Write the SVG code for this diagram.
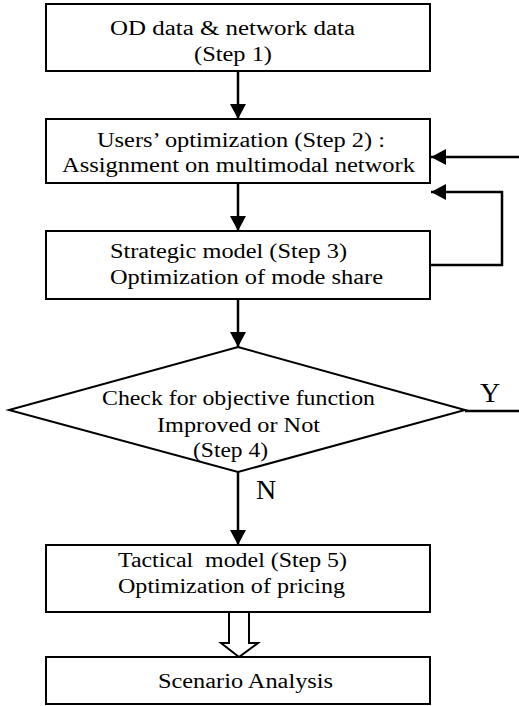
<svg xmlns="http://www.w3.org/2000/svg" width="519" height="706" viewBox="0 0 519 706">
  <style>
    .box { fill: #ffffff; stroke: #000000; stroke-width: 2; }
    .line { fill: none; stroke: #000000; stroke-width: 2.5; }
    .hollow { fill: #ffffff; stroke: #000000; stroke-width: 2; stroke-linejoin: miter; }
    text { font-family: "Liberation Serif", "Times New Roman", serif; font-size: 20px; fill: #000000; }
    .big { font-size: 28px; }
  </style>
  <defs>
    <marker id="head" markerWidth="16" markerHeight="16" viewBox="0 0 16 16" refX="15" refY="8" orient="auto" markerUnits="userSpaceOnUse">
      <path d="M0,0 L15,8 L0,16 Z" fill="#000000"/>
    </marker>
  </defs>

  <rect width="519" height="706" fill="#ffffff"/>

  <!-- connectors -->
  <g id="connectors">
    <line class="line" x1="238" y1="71" x2="238" y2="119" marker-end="url(#head)"/>
    <line class="line" x1="238" y1="183" x2="238" y2="231" marker-end="url(#head)"/>
    <line class="line" x1="238" y1="299" x2="238" y2="347" marker-end="url(#head)"/>
    <line class="line" x1="238" y1="472" x2="238" y2="545" marker-end="url(#head)"/>
    <!-- Y branch back to step 2 -->
    <line class="line" x1="465" y1="411" x2="519" y2="411"/>
    <line class="line" x1="519" y1="157" x2="431" y2="157" marker-end="url(#head)"/>
    <!-- loop from step 3 to step 2 -->
    <polyline class="line" points="430,265 502,265 502,192 431,192" marker-end="url(#head)"/>
    <!-- hollow arrow to scenario analysis -->
    <path class="hollow" d="M229,612 L229,643 L221,643 L239,657 L258,643 L249,643 L249,612"/>
    <text class="big" x="480" y="402">Y</text>
    <text class="big" x="256" y="499">N</text>
  </g>

  <g id="step1">
    <rect class="box" x="46" y="4" width="384" height="67"/>
    <text x="110" y="35" textLength="245" lengthAdjust="spacingAndGlyphs">OD data &amp; network data</text>
    <text x="194" y="61" textLength="78" lengthAdjust="spacingAndGlyphs">(Step 1)</text>
  </g>

  <g id="step2">
    <rect class="box" x="46" y="119" width="384" height="64"/>
    <text x="97" y="147" textLength="288" lengthAdjust="spacingAndGlyphs">Users’ optimization (Step 2) :</text>
    <text x="62" y="172" textLength="353" lengthAdjust="spacingAndGlyphs">Assignment on multimodal network</text>
  </g>

  <g id="step3">
    <rect class="box" x="46" y="231" width="384" height="68"/>
    <text x="110" y="258" textLength="237" lengthAdjust="spacingAndGlyphs">Strategic model (Step 3)</text>
    <text x="110" y="284" textLength="273" lengthAdjust="spacingAndGlyphs">Optimization of mode share</text>
  </g>

  <g id="step4">
    <polygon class="box" points="238,347 465,410 238,472 9,410"/>
    <text x="102" y="405" textLength="273" lengthAdjust="spacingAndGlyphs">Check for objective function</text>
    <text x="157" y="432" textLength="163" lengthAdjust="spacingAndGlyphs">Improved or Not</text>
    <text x="193" y="457" textLength="75" lengthAdjust="spacingAndGlyphs">(Step 4)</text>
  </g>

  <g id="step5">
    <rect class="box" x="46" y="545" width="384" height="67"/>
    <text x="118" y="567" textLength="229" lengthAdjust="spacingAndGlyphs" xml:space="preserve">Tactical  model (Step 5)</text>
    <text x="118" y="593" textLength="227" lengthAdjust="spacingAndGlyphs">Optimization of pricing</text>
  </g>

  <g id="scenario">
    <rect class="box" x="46" y="657" width="384" height="47"/>
    <text x="158" y="688" textLength="175" lengthAdjust="spacingAndGlyphs">Scenario Analysis</text>
  </g>
</svg>
